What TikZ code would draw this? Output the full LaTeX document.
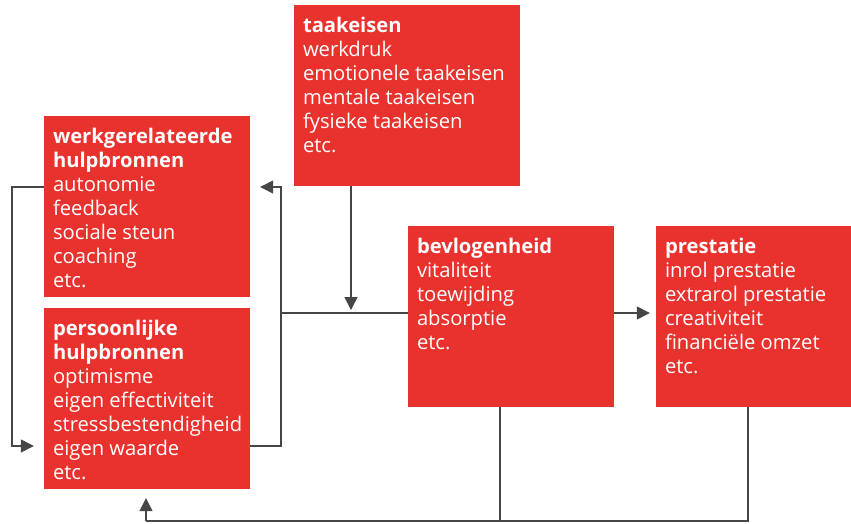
\documentclass[tikz,border=0pt]{standalone}
\usepackage{fontspec}
\setmainfont{Open Sans}
\usetikzlibrary{arrows.meta, calc, positioning}
\definecolor{boxred}{RGB}{233,50,46}
\definecolor{linegray}{RGB}{70,70,70}

\begin{document}
\begin{tikzpicture}[
  x=1pt, y=-1pt,
  box/.style={rectangle, fill=boxred, inner sep=0pt, minimum width=206pt, minimum height=181pt},
  boxtext/.style={anchor=north west, inner sep=0pt, align=left, text=white,
    font=\fontsize{20.2}{24}\selectfont},
  arrow/.style={-{Triangle[length=13pt, width=13pt]}, draw=linegray, line width=1.3pt},
  line/.style={draw=linegray, line width=1.3pt}
]
\useasboundingbox (0,0) rectangle (851,523);

% --- Blokken ---
\node[box] (werk)  at (147, 206.5) {};
\node[box] (pers)  at (147, 398.5) {};
\node[box, minimum width=226pt] (taak) at (407, 95.5) {};
\node[box] (bevl)  at (511, 316.5) {};
\node[box, minimum width=195pt] (prest) at (753.5, 316.5) {};

% --- Teksten ---
\node[boxtext] (werktxt) at ($(werk.north west)+(9,12.5)$)
  {\textbf{werkgerelateerde}\\\textbf{hulpbronnen}\\autonomie\\feedback\\sociale steun\\coaching\\etc.};
\node[boxtext] (perstxt) at ($(pers.north west)+(9,12.5)$)
  {\textbf{persoonlijke}\\\textbf{hulpbronnen}\\optimisme\\eigen effectiviteit\\stressbestendigheid\\eigen waarde\\etc.};
\node[boxtext] (taaktxt) at ($(taak.north west)+(9,12.5)$)
  {\textbf{taakeisen}\\werkdruk\\emotionele taakeisen\\mentale taakeisen\\fysieke taakeisen\\etc.};
\node[boxtext] (bevltxt) at ($(bevl.north west)+(9,12.5)$)
  {\textbf{bevlogenheid}\\vitaliteit\\toewijding\\absorptie\\etc.};
\node[boxtext] (presttxt) at ($(prest.north west)+(9,12.5)$)
  {\textbf{prestatie}\\inrol prestatie\\extrarol prestatie\\creativiteit\\financi\"ele omzet\\etc.};

% --- Hulppunten ---
\coordinate (links)  at (12, 187);
\coordinate (rechts) at (281, 313);
\coordinate (onder)  at (146, 521);

% --- Verbindingen ---
\draw[arrow] (werk.west |- links) -- (links) |- ($(pers.west |- 0,446)+(-10,0)$);
\draw[arrow] (pers.east |- 0,446) -| (rechts |- 0,446) |- ($(werk.east |- links)+(10,0)$);
\draw[line] (rechts) -- (bevl.west |- rechts);
\draw[arrow] (taak.south -| 351,0) -- ($(rechts -| 351,0)+(0,-3)$);
\draw[arrow] (bevl.east |- rechts) -- ($(prest.west |- rechts)+(-6,0)$);
\draw[line] (bevl.south -| 500,0) |- (onder);
\draw[line] (prest.south -| 748,0) |- (onder);
\draw[arrow] (onder) -- ($(pers.south -| onder)+(0,9)$);
\end{tikzpicture}
\end{document}
